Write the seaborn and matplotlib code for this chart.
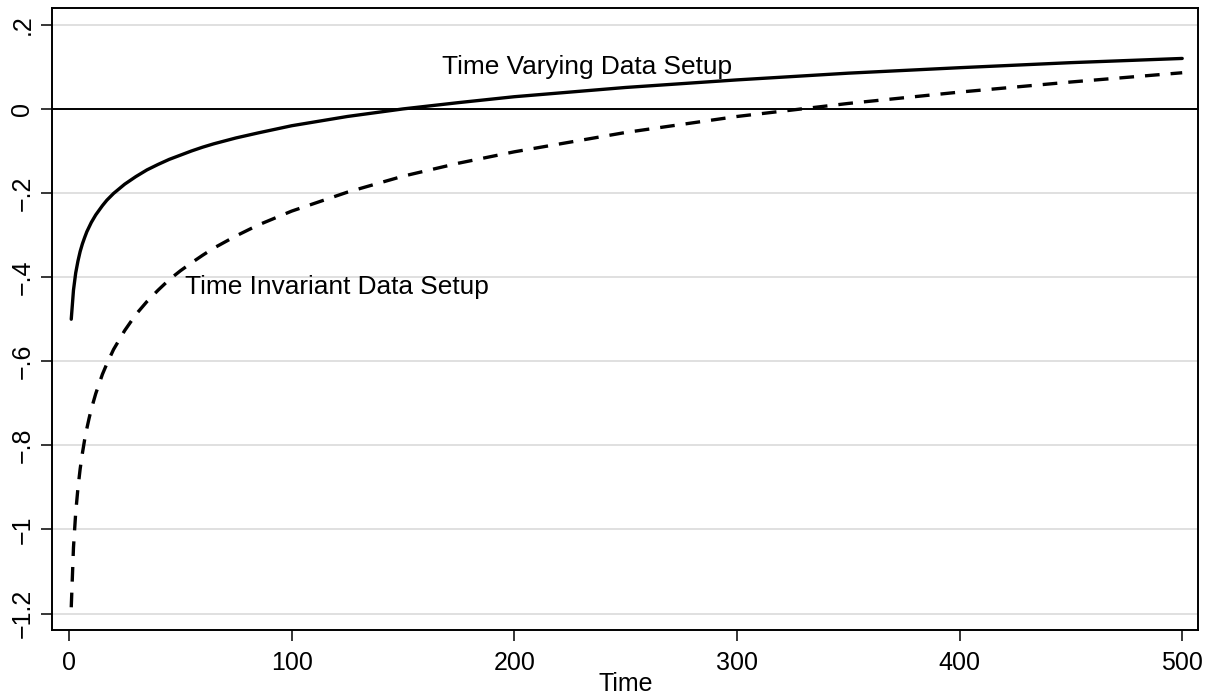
import numpy as np
import pandas as pd
import matplotlib
matplotlib.use("Agg")
import matplotlib.pyplot as plt
import seaborn as sns

# ---- data ----
time_points = [1, 2, 3, 4, 5, 6, 7, 8, 9, 10, 12, 15, 17, 20, 25, 30, 35, 40, 45,
               50, 55, 60, 65, 75, 85, 100, 125, 150, 175, 200, 250, 300, 350,
               400, 450, 500]
time_varying = [-0.500, -0.431, -0.390, -0.362, -0.339, -0.321, -0.306, -0.292,
                -0.281, -0.270, -0.252, -0.230, -0.217, -0.201, -0.179, -0.161,
                -0.145, -0.132, -0.120, -0.110, -0.100, -0.091, -0.083, -0.069,
                -0.057, -0.040, -0.018, 0.000, 0.015, 0.029, 0.051, 0.069,
                0.085, 0.098, 0.110, 0.120]
time_invariant = [-1.185, -1.043, -0.960, -0.902, -0.856, -0.819, -0.787, -0.760,
                  -0.736, -0.714, -0.677, -0.631, -0.606, -0.572, -0.527, -0.489,
                  -0.458, -0.431, -0.406, -0.385, -0.366, -0.348, -0.331, -0.302,
                  -0.276, -0.243, -0.198, -0.160, -0.129, -0.102, -0.056, -0.018,
                  0.013, 0.040, 0.064, 0.086]
x_ticks = [0, 100, 200, 300, 400, 500]
y_ticks = [-1.2, -1.0, -0.8, -0.6, -0.4, -0.2, 0.0, 0.2]
y_tick_labels = ["\u22121.2", "\u22121", "\u2212.8", "\u2212.6", "\u2212.4", "\u2212.2", "0", ".2"]
label_varying = "Time Varying Data Setup"
label_invariant = "Time Invariant Data Setup"
x_label = "Time"

df = pd.DataFrame({
    "Time": time_points * 2,
    "value": time_varying + time_invariant,
    "setup": ["varying"] * len(time_points) + ["invariant"] * len(time_points),
})

sns.set_style("ticks")
plt.rcParams["font.family"] = ["Liberation Sans", "DejaVu Sans"]
plt.rcParams["text.color"] = "black"
plt.rcParams["axes.labelcolor"] = "black"
plt.rcParams["xtick.color"] = "black"
plt.rcParams["ytick.color"] = "black"

fig = plt.figure(figsize=(12.14, 7.0), dpi=100)
ax = fig.add_axes([0.0431, 0.1, 0.9441, 0.888])

# grid lines
for yt in y_ticks:
    ax.axhline(yt, color="#e0e0e0", lw=1.4, zorder=0)
ax.axhline(0, color="black", lw=1.4, zorder=1)

sns.lineplot(data=df[df.setup == "varying"], x="Time", y="value", ax=ax,
             color="black", lw=2.4, estimator=None, sort=True, zorder=3)
sns.lineplot(data=df[df.setup == "invariant"], x="Time", y="value", ax=ax,
             color="black", lw=2.4, estimator=None, sort=True, zorder=3,
             linestyle=(0, (4.4, 3.3)))

ax.set_xlim(-7.5, 507.3)
ax.set_ylim(-1.239, 0.239)
ax.set_xticks(x_ticks)
ax.set_xticklabels([str(v) for v in x_ticks])
ax.set_yticks(y_ticks)
ax.set_yticklabels(y_tick_labels, rotation=90, va="center")
ax.tick_params(axis="both", labelsize=18, length=8, width=1.1, direction="out",
               colors="black")
ax.tick_params(axis="x", pad=7)
ax.tick_params(axis="y", pad=5)
ax.set_xlabel(x_label, fontsize=18, labelpad=-2)
ax.set_ylabel("")

for s in ax.spines.values():
    s.set_visible(True)
    s.set_linewidth(1.4)
    s.set_color("black")

ax.text(167.5, 0.10, label_varying, fontsize=18.9, va="center", ha="left")
ax.text(52, -0.424, label_invariant, fontsize=18.9, va="center", ha="left")

fig.savefig("out.png", dpi=100)
